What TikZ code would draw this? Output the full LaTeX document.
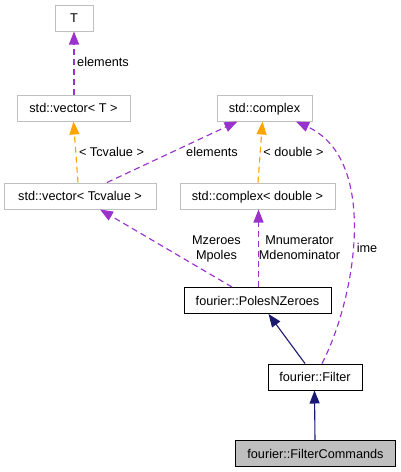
\documentclass[tikz,border=0pt]{standalone}
\usepackage{fontspec}
\setmainfont{Liberation Sans}
\usetikzlibrary{arrows.meta}
\definecolor{purp}{RGB}{154,50,205}
\definecolor{orng}{RGB}{255,165,0}
\definecolor{navyc}{RGB}{25,25,112}
\definecolor{boxgray}{RGB}{191,191,191}
\tikzset{
  every node/.style={font=\fontsize{12.7}{15}\selectfont},
  basebox/.style={draw, line width=1pt, minimum height=26pt, inner sep=0pt, text height=9.1pt, text depth=0pt},
  stdbox/.style={basebox, draw=boxgray},
  fbox/.style={basebox, draw=black},
  lbl/.style={inner sep=0pt, text height=9.1pt, text depth=0pt},
  mlbl/.style={inner sep=0pt, align=center, anchor=north},
  purpedge/.style={draw=purp, line width=1.15pt, dash pattern=on 6pt off 4pt, -{Triangle[length=13pt,width=10pt,fill=purp]}},
  orngedge/.style={draw=orng, line width=1.15pt, dash pattern=on 6pt off 4pt, -{Triangle[length=13pt,width=10pt,fill=orng]}},
  navyedge/.style={draw=navyc, line width=1.1pt, -{Triangle[length=13pt,width=10pt,fill=navyc]}}
}
\begin{document}
\begin{tikzpicture}[x=1pt,y=-1pt]
\useasboundingbox (0,0) rectangle (400,472);
% nodes
\node[stdbox, minimum width=38pt] (T) at (74,18) {T};
\node[stdbox, minimum width=113pt] (vT) at (73.5,108) {std::vector< T >};
\node[stdbox, minimum width=95pt] (cx) at (264.5,108) {std::complex};
\node[stdbox, minimum width=152pt] (vTc) at (80,196) {std::vector< Tcvalue >};
\node[stdbox, minimum width=155pt] (cxd) at (257.5,196) {std::complex< double >};
\node[fbox, minimum width=147pt] (pnz) at (257.5,300.5) {fourier::PolesNZeroes};
\node[fbox, minimum width=94pt] (filt) at (315,377) {fourier::Filter};
\node[fbox, fill=boxgray, minimum width=160pt] (fc) at (315.5,453.5) {fourier::FilterCommands};
% edges
\draw[purpedge] ([xshift=0.5pt]vT.north) -- (T.south);
\draw[orngedge] ([xshift=-2pt]vTc.north) -- (vT.south);
\draw[purpedge] ([xshift=27pt]vTc.north) -- ([xshift=-27pt]cx.south);
\draw[orngedge] ([xshift=0.5pt]cxd.north) -- ([xshift=-2pt]cx.south);
\draw[purpedge] ([xshift=-25.5pt]pnz.north) -- ([xshift=20pt]vTc.south);
\draw[purpedge] ([xshift=1pt]pnz.north) -- ([xshift=1pt]cxd.south);
\draw[purpedge] ([xshift=7pt]filt.north) .. controls (355,300) and (380,160) .. ([xshift=31.5pt]cx.south);
\draw[navyedge] ([xshift=-10pt]filt.north) -- ([xshift=11pt]pnz.south);
\draw[navyedge] ([xshift=-0.5pt]fc.north) -- ([xshift=-0.5pt]filt.south);
% labels
\node[lbl] (l1) at (103,62) {elements};
\node[lbl] (l2) at (111.5,152) {< Tcvalue >};
\node[lbl] (l3) at (212,152) {elements};
\node[lbl] (l4) at (293.5,152) {< double >};
\node[mlbl] (l5) at (216.5,235.4) {Mzeroes\\Mpoles};
\node[mlbl] (l6) at (299.5,235.4) {Mnumerator\\Mdenominator};
\node[lbl] (l7) at (367,248) {ime};
\end{tikzpicture}
\end{document}
